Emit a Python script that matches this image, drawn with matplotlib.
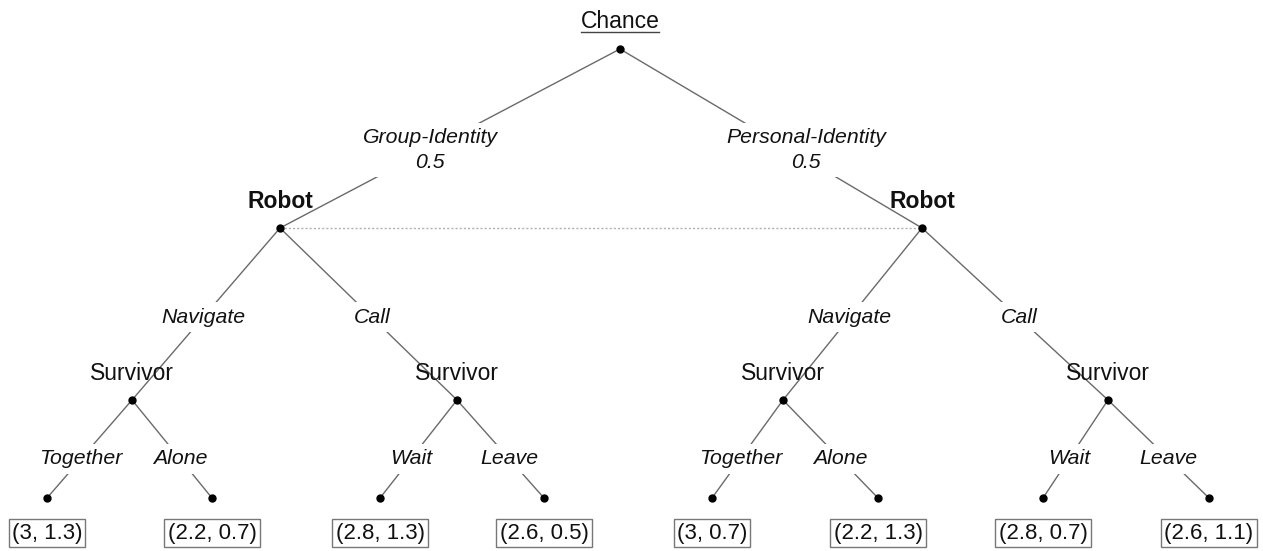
import matplotlib.pyplot as plt

plt.rcParams["font.family"] = ["Liberation Sans", "DejaVu Sans"]

# game tree data
chance_label = "Chance"
types = ["Group-Identity", "Personal-Identity"]
type_probs = [0.5, 0.5]
robot_label = "Robot"
robot_actions = ["Navigate", "Call"]
survivor_label = "Survivor"
survivor_actions = [["Together", "Alone"], ["Wait", "Leave"]]
payoff_robot = [3, 2.2, 2.8, 2.6, 3, 2.2, 2.8, 2.6]
payoff_survivor = [1.3, 0.7, 1.3, 0.5, 0.7, 1.3, 0.7, 1.1]

# layout (figure pixels, y down)
root = (620, 49)
robot_xy = [(280, 228), (922, 228)]
survivor_xy = [(132, 400), (457, 400), (783, 400), (1108, 400)]
leaf_y = 498
leaf_x = [47, 212, 380, 544, 712, 878, 1043, 1209]
payoff_y = 533
type_label_xy = [(430, 150), (806, 150)]
label_dy = 27

LINE = "#6a6a6a"
TXT = "#111111"

fig = plt.figure(figsize=(12.63, 5.51), dpi=100)
ax = fig.add_axes([0, 0, 1, 1])
ax.set_xlim(0, 1263)
ax.set_ylim(551, 0)
ax.axis("off")


def edge(p, q):
    ax.plot([p[0], q[0]], [p[1], q[1]], color=LINE, lw=1.0, zorder=1)


def dot(p):
    ax.plot(p[0], p[1], "o", color="black", ms=5, zorder=3)


def edge_label(text, x, y, size=15.3):
    ax.text(x, y, text, ha="center", va="center", fontsize=size, style="italic",
            color=TXT, zorder=2, linespacing=1.35,
            bbox=dict(facecolor="white", edgecolor="none", pad=4))


# chance node
dot(root)
t = ax.text(root[0], root[1] - label_dy, chance_label, ha="center", va="center",
            fontsize=16.5, color=TXT)
fig.canvas.draw()
bb = t.get_window_extent().transformed(ax.transData.inverted())
ax.plot([bb.x0, bb.x1], [root[1] - 17, root[1] - 17], color="#444444", lw=1.0)

# information set
ax.plot([robot_xy[0][0], robot_xy[1][0]], [robot_xy[0][1], robot_xy[1][1]],
        color="#b0b0b0", lw=1.0, ls=(0, (1.5, 1.5)), zorder=0)

for i, rb in enumerate(robot_xy):
    edge(root, rb)
    dot(rb)
    lx, ly = type_label_xy[i]
    edge_label(f"{types[i]}\n{type_probs[i]}", lx, ly)
    ax.text(rb[0], rb[1] - label_dy, robot_label, ha="center", va="center",
            fontsize=16.5, fontweight="bold", color=TXT)
    for j, act in enumerate(robot_actions):
        s = survivor_xy[2 * i + j]
        edge(rb, s)
        dot(s)
        f = 0.52
        edge_label(act, rb[0] + f * (s[0] - rb[0]), rb[1] + f * (s[1] - rb[1]))
        ax.text(s[0], s[1] - label_dy, survivor_label, ha="center", va="center",
                fontsize=16.5, color=TXT, zorder=2)
        for k, resp in enumerate(survivor_actions[j]):
            n = 4 * i + 2 * j + k
            lf = (leaf_x[n], leaf_y)
            edge(s, lf)
            dot(lf)
            f = 0.6
            edge_label(resp, s[0] + f * (lf[0] - s[0]), s[1] + f * (lf[1] - s[1]))
            ax.text(lf[0], payoff_y, f"({payoff_robot[n]:g}, {payoff_survivor[n]:g})",
                    ha="center", va="center", fontsize=16, color=TXT,
                    bbox=dict(boxstyle="square,pad=0.14", facecolor="white",
                              edgecolor="#777777", lw=1.0))

fig.savefig("out.png", dpi=100)
